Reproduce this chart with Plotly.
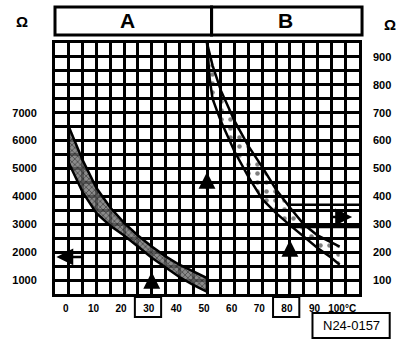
import plotly.graph_objects as go

# Sensor A: low temperature range (left resistance scale)
temp_a = [0, 5, 10, 15, 20, 25, 30, 35, 40, 45, 50]
ohm_a_high = [6500, 5300, 4300, 3600, 3050, 2600, 2200, 1850, 1550, 1300, 1070]
ohm_a_low = [5200, 4150, 3400, 2950, 2600, 2200, 1800, 1450, 1110, 830, 580]

# Sensor B: high temperature range (right resistance scale)
temp_b = [50, 51, 52, 55, 60, 65, 70, 75, 80, 85, 90, 95, 98]
ohm_b_high = [950, 905, 870, 780, 670, 580, 505, 425, 360, 300, 260, 235, 220]
ohm_b_low = [950, 820, 750, 670, 560, 470, 390, 340, 297, 255, 215, 180, 155]

# Tolerance window of sensor B at 80 °C
b_window_temp = [80, 105]
b_window_high = [370, 370]
b_window_low = [290, 290]

# Axis ticks
x_ticks = [0, 10, 20, 30, 40, 50, 60, 70, 80, 90, 100]
x_tick_text = ["0", "10", "20", "30", "40", "50", "60", "70", "80", "90", "100°C"]
left_ticks = [1000, 2000, 3000, 4000, 5000, 6000, 7000]
right_ticks = [100, 200, 300, 400, 500, 600, 700, 800, 900]
boxed_temps = [30, 80]

# Reading arrows
a_read_ohm = 1830
a_arrow_tip = 1290
b_arrow_tip = 244
b_read_ohm = 326
switch_temp = 50
switch_line_top = 7500
switch_arrow_tip = 4875

INK = "black"
FONT = "Liberation Sans"

fig = go.Figure()

# Sensor A band
fig.add_trace(go.Scatter(
    x=temp_a + temp_a[::-1] + [temp_a[0]],
    y=ohm_a_high + ohm_a_low[::-1] + [ohm_a_high[0]],
    mode="lines", fill="toself",
    fillpattern=dict(shape="x", fgcolor=INK, bgcolor="rgba(110,110,110,0.8)",
                     size=4, solidity=0.35),
    line=dict(color=INK, width=2.5), yaxis="y", hoverinfo="skip"))

# Sensor B band (fill only, edges drawn separately)
fig.add_trace(go.Scatter(
    x=temp_b + temp_b[::-1],
    y=ohm_b_high + ohm_b_low[::-1],
    mode="none", fill="toself",
    fillpattern=dict(shape=".", fgcolor=INK, bgcolor="rgba(255,255,255,0)",
                     size=9, solidity=0.2),
    yaxis="y2", hoverinfo="skip"))
for curve in (ohm_b_high, ohm_b_low):
    fig.add_trace(go.Scatter(x=temp_b, y=curve, mode="lines",
                             line=dict(color=INK, width=2.5), yaxis="y2",
                             hoverinfo="skip"))

# Tolerance window lines for B
for lvl in (b_window_high, b_window_low):
    fig.add_trace(go.Scatter(x=b_window_temp, y=lvl, mode="lines",
                             line=dict(color=INK, width=2.5), yaxis="y2",
                             hoverinfo="skip"))

# Dashed switch-over line at 50 °C
fig.add_trace(go.Scatter(x=[switch_temp, switch_temp], y=[500, switch_line_top],
                         mode="lines", line=dict(color=INK, width=2, dash="4px,3px"),
                         yaxis="y", hoverinfo="skip"))

arrow = dict(showarrow=True, arrowhead=2, arrowsize=1.35, arrowwidth=2.5,
             arrowcolor=INK, text="", standoff=0, startstandoff=0)
label = dict(showarrow=False, xref="paper", yref="paper",
             xanchor="center", yanchor="middle")
annotations = [
    dict(x=30, y=a_arrow_tip, ax=30, ay=500, xref="x", yref="y",
         axref="x", ayref="y", **arrow),
    dict(x=80, y=b_arrow_tip, ax=80, ay=50, xref="x", yref="y2",
         axref="x", ayref="y2", **arrow),
    dict(x=-4.5, y=a_read_ohm, ax=5, ay=a_read_ohm, xref="x", yref="y",
         axref="x", ayref="y", **arrow),
    dict(x=102.5, y=b_read_ohm, ax=94.3, ay=b_read_ohm, xref="x", yref="y2",
         axref="x", ayref="y2", **arrow),
    dict(x=switch_temp, y=switch_arrow_tip, ax=switch_temp, ay=4200,
         xref="x", yref="y", axref="x", ayref="y", **arrow),
    dict(x=0.238, y=1.088, text="<b>A</b>",
         font=dict(family=FONT, size=21, color=INK), **label),
    dict(x=0.759, y=1.088, text="<b>B</b>",
         font=dict(family=FONT, size=21, color=INK), **label),
    dict(x=-0.11, y=1.084, text="<b>Ω</b>",
         font=dict(family=FONT, size=15, color=INK), **label),
    dict(x=1.101, y=1.072, text="<b>Ω</b>",
         font=dict(family=FONT, size=15, color=INK), **label),
    dict(x=0.974, y=-0.1255, text="N24-0157",
         font=dict(family=FONT, size=13, color=INK), **label),
]

shapes = [
    dict(type="rect", xref="paper", yref="paper", x0=0, x1=0.515,
         y0=1.032, y1=1.143, line=dict(color=INK, width=3)),
    dict(type="rect", xref="paper", yref="paper", x0=0.515, x1=1.01,
         y0=1.032, y1=1.143, line=dict(color=INK, width=3)),
    dict(type="rect", xref="paper", yref="paper", x0=0.847, x1=1.101,
         y0=-0.175, y1=-0.0757, line=dict(color=INK, width=2)),
]
for t in boxed_temps:
    shapes.append(dict(type="rect", xref="x", yref="paper", x0=t - 6.1,
                       x1=t + 3.4, y0=-0.092, y1=-0.012,
                       line=dict(color=INK, width=2)))

grid = dict(showgrid=True, gridcolor=INK, gridwidth=2.5)
tick_font = dict(family=FONT, size=11, color=INK, weight="bold")

fig.update_layout(
    width=416, height=346,
    margin=dict(l=52, r=57, t=43, b=52),
    paper_bgcolor="white", plot_bgcolor="white",
    showlegend=False,
    xaxis=dict(range=[-5, 105], tickmode="array", tickvals=x_ticks,
               ticktext=x_tick_text, showgrid=False, zeroline=False,
               ticks="", ticklabelstandoff=3, ticklabelshift=-3,
               tickfont=dict(family=FONT, size=10, color=INK, weight="bold"),
               showline=True, mirror=True, linecolor=INK, linewidth=3,
               minor=dict(tickmode="linear", tick0=0, dtick=5, ticks="", **grid)),
    yaxis=dict(range=[500, 9500], tickmode="array", tickvals=left_ticks,
               showgrid=False, zeroline=False, ticks="",
               ticklabelstandoff=13, tickfont=tick_font,
               showline=True, mirror=True, linecolor=INK, linewidth=3,
               minor=dict(tickmode="linear", tick0=500, dtick=500, ticks="", **grid)),
    yaxis2=dict(range=[50, 950], overlaying="y", side="right",
                tickmode="array", tickvals=right_ticks, showgrid=False,
                zeroline=False, ticks="", ticklabelstandoff=13,
                tickfont=tick_font),
    annotations=annotations,
    shapes=shapes,
)

fig.write_html("out.html")
